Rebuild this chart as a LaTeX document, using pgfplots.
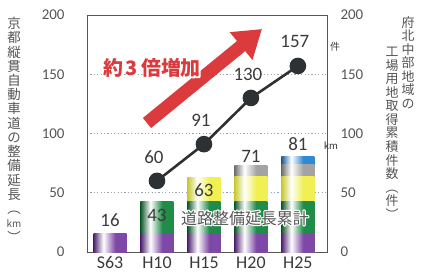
\documentclass[border=0pt]{standalone}
\usepackage{pgfplots}
\pgfplotsset{compat=1.18}
\usepackage{fontspec}
\setmainfont{Carlito}
\newfontfamily\cjk{Noto Sans CJK JP}
\usetikzlibrary{arrows.meta}
\definecolor{pc}{HTML}{7E48A6}
\definecolor{pd}{HTML}{4E2370}
\definecolor{gc}{HTML}{1F8C48}
\definecolor{gd}{HTML}{0E5A2A}
\definecolor{yc}{HTML}{F0F052}
\definecolor{yd}{HTML}{C9C92E}
\definecolor{sc}{HTML}{A3A3A3}
\definecolor{sd}{HTML}{707070}
\definecolor{bc}{HTML}{2E8AD2}
\definecolor{bd}{HTML}{1A5A9A}
\definecolor{lc}{HTML}{2E3133}
\definecolor{tc}{HTML}{3A3A3A}
\definecolor{tg}{HTML}{555555}
\definecolor{rc}{HTML}{DB3B3D}
\definecolor{gridc}{HTML}{9AA4AE}
\pgfdeclarehorizontalshading{purpsh}{100bp}{color(0bp)=(pd);color(25bp)=(pd);color(40bp)=(white);color(58bp)=(pc);color(100bp)=(pc)}
\pgfdeclarehorizontalshading{greensh}{100bp}{color(0bp)=(gd);color(25bp)=(gd);color(40bp)=(white);color(58bp)=(gc);color(100bp)=(gc)}
\pgfdeclarehorizontalshading{yellowsh}{100bp}{color(0bp)=(yd);color(25bp)=(yd);color(40bp)=(white);color(58bp)=(yc);color(100bp)=(yc)}
\pgfdeclarehorizontalshading{graysh}{100bp}{color(0bp)=(sd);color(25bp)=(sd);color(40bp)=(white);color(58bp)=(sc);color(100bp)=(sc)}
\pgfdeclarehorizontalshading{bluesh}{100bp}{color(0bp)=(bd);color(25bp)=(bd);color(40bp)=(white);color(58bp)=(bc);color(100bp)=(bc)}
\newcommand\seg[3]{\addplot[draw=none, shade, shading=#1] coordinates {(#2,#3)};}
\newcommand\halo[1]{\special{pdf:literal direct 1 Tr 2.4 w 1 j 1 1 1 RG}#1\special{pdf:literal direct 0 Tr}}
\begin{document}
\begin{tikzpicture}
\useasboundingbox (-87bp,-24bp) rectangle (334bp,252bp);
\begin{axis}[
  scale only axis, width=240bp, height=237bp,
  xmin=-0.49, xmax=4.62, ymin=0, ymax=200,
  xtick={0,1,2,3,4}, xticklabels={S63,H10,H15,H20,H25},
  ytick={0,50,100,150,200},
  ybar, bar width=33bp, bar shift=0pt,
  ymajorgrids, grid style={gridc, line width=0.9bp, dash pattern=on 1.2bp off 2.2bp},
  axis line style={tg, line width=0.8bp},
  major tick length=0pt,
  /pgf/number format/assume math mode=true,
  yticklabel style={font=\fontsize{15}{15}\selectfont, text=tg, xshift=-19bp},
  xticklabel style={font=\fontsize{18}{18}\selectfont, text=tc, yshift=-1bp},
  clip=false,
]
% cumulative tops of the stacked segments
\seg{bluesh}{4}{81}
\seg{graysh}{3}{73} \seg{graysh}{4}{74}
\seg{yellowsh}{2}{63} \seg{yellowsh}{3}{64} \seg{yellowsh}{4}{64}
\seg{greensh}{1}{43} \seg{greensh}{2}{43} \seg{greensh}{3}{43} \seg{greensh}{4}{43}
\seg{purpsh}{0}{16} \seg{purpsh}{1}{16} \seg{purpsh}{2}{16} \seg{purpsh}{3}{16} \seg{purpsh}{4}{16}
\begin{scope}[every node/.style={font=\fontsize{19}{19}\selectfont, text=tc}]
\node at (axis cs:0,27) {16};
\node at (axis cs:1,31) {43};
\node at (axis cs:2,52.5) {63};
\node at (axis cs:3,80.5) {71};
\node at (axis cs:4,91) {81};
\end{scope}
\end{axis}
\begin{axis}[
  scale only axis, width=240bp, height=237bp,
  xmin=-0.49, xmax=4.62, ymin=0, ymax=200,
  axis x line=none, axis y line*=right,
  ytick={0,50,100,150,200},
  axis line style={tg, line width=0.8bp},
  major tick length=0pt,
  /pgf/number format/assume math mode=true,
  yticklabel style={font=\fontsize{15}{15}\selectfont, text=tg, xshift=10bp},
  clip=false,
  nodes near coords,
  every node near coord/.append style={font=\fontsize{19}{19}\selectfont, text=tc, anchor=center, yshift=24bp, xshift=-3bp},
]
\addplot[lc, line width=2.6bp, mark=*, mark size=7bp, mark options={fill=lc, draw=lc}] coordinates {(1,60) (2,91) (3,130) (4,157)};
\end{axis}
% arrow
\draw[rc, line width=13bp, -{Triangle[width=34bp, length=27bp]}] (60bp,129bp) -- (175bp,223bp);
% red text with white halo
\node[text=rc, font=\cjk\bfseries\fontsize{20}{20}\selectfont] at (65bp,184bp) {\rlap{\halo{約\hspace{3bp}3\hspace{3bp}倍増加}}約\hspace{3bp}3\hspace{3bp}倍増加};
% road label with halo
\node[text=tg, font=\cjk\fontsize{16}{16}\selectfont] at (158bp,34bp) {\rlap{\halo{道路整備延長累計}}道路整備延長累計};
% small units
\node[text=tc, font=\cjk\fontsize{10}{10}\selectfont] at (248bp,205bp) {件};
\node[text=tc, font=\fontsize{11}{11}\selectfont] at (244bp,106bp) {km};
% axis titles (vertical)
\node[anchor=north, align=center, text=tg, inner sep=0pt, font=\cjk\fontsize{13.5}{14.3}\selectfont] at (-73bp,235bp)
  {京\\都\\縦\\貫\\自\\動\\車\\道\\の\\整\\備\\延\\長\\︵\\{\fontsize{10}{10}\selectfont km}\\︶};
\node[anchor=north, align=center, text=tg, inner sep=0pt, font=\cjk\fontsize{13}{13.6}\selectfont] at (321bp,236bp)
  {府\\北\\中\\部\\地\\域\\の};
\node[anchor=north, align=center, text=tg, inner sep=0pt, font=\cjk\fontsize{13}{13.6}\selectfont] at (305bp,205bp)
  {工\\場\\用\\地\\取\\得\\累\\積\\件\\数\\︵\\件\\︶};
\end{tikzpicture}
\end{document}
